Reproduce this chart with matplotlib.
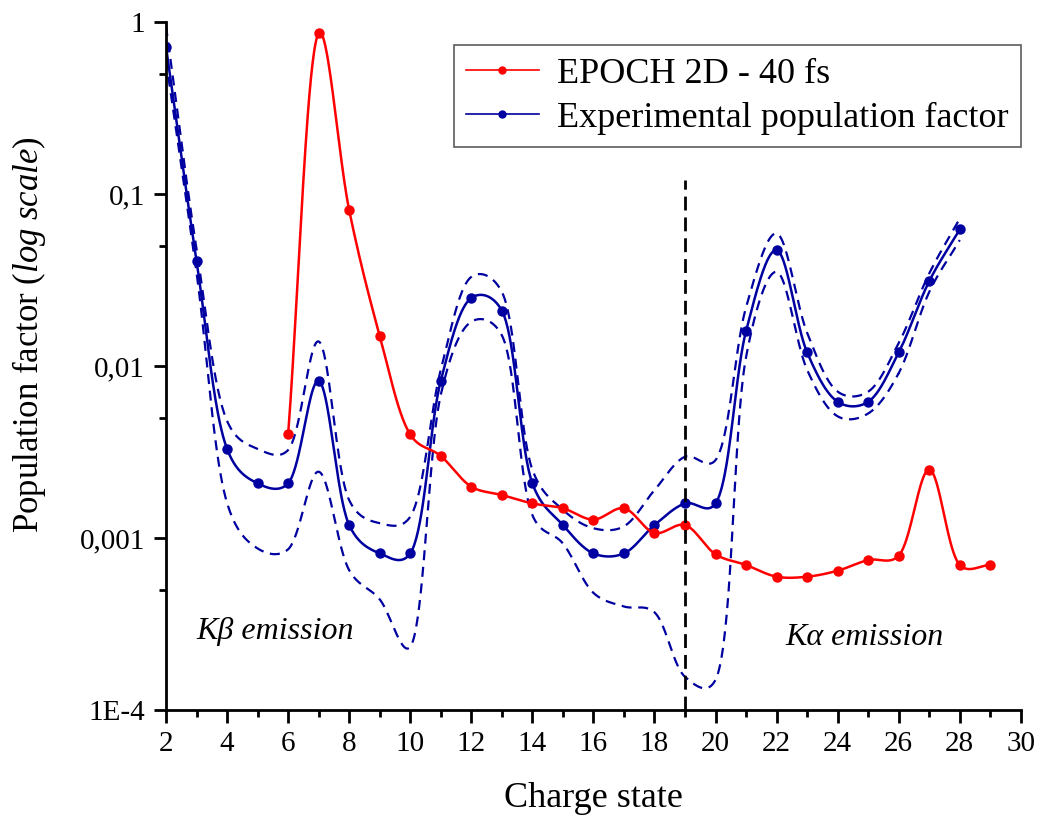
import numpy as np
import matplotlib
matplotlib.use("Agg")
import matplotlib.pyplot as plt
from matplotlib.ticker import FixedLocator, FixedFormatter, MultipleLocator, NullFormatter

plt.rcParams['font.family'] = ['Liberation Serif', 'DejaVu Serif']
plt.rcParams['mathtext.fontset'] = 'custom'
plt.rcParams['mathtext.rm'] = 'Liberation Serif'
plt.rcParams['mathtext.it'] = 'Liberation Serif:italic'

# --- data --------------------------------------------------------------------
epoch_x = np.arange(6, 30)
epoch_y = [0.0040, 0.86, 0.0807, 0.015, 0.0040, 0.0030, 0.00199, 0.00178,
           0.00159, 0.00149, 0.00128, 0.00149, 0.00107, 0.00119, 0.000804,
           0.000697, 0.000596, 0.000596, 0.000646, 0.000745, 0.00079,
           0.0025, 0.000697, 0.000697]

exp_x = np.arange(2, 29)
exp_y = [0.72, 0.041, 0.0033, 0.00208, 0.00208, 0.00818, 0.00119, 0.000814,
         0.000814, 0.0082, 0.0249, 0.021, 0.00208, 0.00119, 0.000814,
         0.000814, 0.00119, 0.00159, 0.00159, 0.016, 0.0472, 0.012, 0.0062,
         0.0062, 0.012, 0.0312, 0.0623]
exp_upper = [0.95, 0.048, 0.0048, 0.0033, 0.00325, 0.0139, 0.00166, 0.00122,
             0.00133, 0.0095, 0.033, 0.027, 0.0025, 0.00146, 0.00114,
             0.00117, 0.0019, 0.00297, 0.00284, 0.022, 0.059, 0.0156, 0.0071,
             0.0071, 0.0136, 0.0346, 0.072]
exp_lower = [0.60, 0.035, 0.0016, 0.00087, 0.00086, 0.00243, 0.00065, 0.00044,
             0.000233, 0.0068, 0.0181, 0.0151, 0.00136, 0.00093, 0.00048,
             0.0004, 0.00037, 0.000156, 0.00015, 0.0113, 0.0353, 0.0095,
             0.0051, 0.0053, 0.0091, 0.027, 0.054]

yticks = [1e-4, 1e-3, 1e-2, 1e-1, 1]
ytick_labels = ["1E-4", "0,001", "0,01", "0,1", "1"]
kshell_split = 19


def smooth(x, y, n=40, alpha=0.3, sx=30.5, sy=172.0):
    # Catmull-Rom through the points, worked out in screen-like units
    # (x per charge state, y per decade) so it bends like Origin's spline
    P = np.column_stack([np.asarray(x, float)*sx, np.log10(y)*sy])
    P = np.vstack([2*P[0] - P[1], P, 2*P[-1] - P[-2]])
    out = []
    for i in range(1, len(P)-2):
        p0, p1, p2, p3 = P[i-1], P[i], P[i+1], P[i+2]
        t0 = 0.0
        t1 = t0 + np.linalg.norm(p1 - p0)**alpha
        t2 = t1 + np.linalg.norm(p2 - p1)**alpha
        t3 = t2 + np.linalg.norm(p3 - p2)**alpha
        t = np.linspace(t1, t2, n)[:, None]
        A1 = (t1-t)/(t1-t0)*p0 + (t-t0)/(t1-t0)*p1
        A2 = (t2-t)/(t2-t1)*p1 + (t-t1)/(t2-t1)*p2
        A3 = (t3-t)/(t3-t2)*p2 + (t-t2)/(t3-t2)*p3
        B1 = (t2-t)/(t2-t0)*A1 + (t-t0)/(t2-t0)*A2
        B2 = (t3-t)/(t3-t1)*A2 + (t-t1)/(t3-t1)*A3
        out.append((t2-t)/(t2-t1)*B1 + (t-t1)/(t2-t1)*B2)
    C = np.vstack(out)
    return C[:, 0]/sx, 10**(C[:, 1]/sy)


red = "#ff0000"
blue = "#0000a0"

fig = plt.figure(figsize=(10.4, 8.18), dpi=100)
ax = fig.add_axes([0.1596, 0.132, 0.822, 0.841])

ax.plot(*smooth(exp_x, exp_upper), color=blue, lw=1.6, ls=(0, (4.5, 3)))
ax.plot(*smooth(exp_x, exp_lower), color=blue, lw=1.6, ls=(0, (4.5, 3)))
ax.plot(*smooth(exp_x, exp_y), color=blue, lw=1.8)
ax.plot(exp_x, exp_y, 'o', color=blue, ms=6.5)
ax.plot(*smooth(epoch_x, epoch_y), color=red, lw=1.8)
ax.plot(epoch_x, epoch_y, 'o', color=red, ms=6.5)

# legend proxies
ax.plot([], [], '-o', color=red, lw=1.2, ms=5, label="EPOCH 2D - 40 fs")
ax.plot([], [], '-o', color=blue, lw=1.2, ms=5, label="Experimental population factor")

ax.vlines(kshell_split, 1e-4, 0.12, colors="black", lw=2, linestyles=(0, (5, 2.5)))

ax.text(3.0, 2.6e-4, "K\u03b2 emission", fontsize=23, fontstyle="italic")
ax.text(22.3, 2.4e-4, "K\u03b1 emission", fontsize=23, fontstyle="italic")

ax.set_yscale("log")
ax.set_xlim(2, 30)
ax.set_ylim(1e-4, 1)
ax.xaxis.set_major_locator(MultipleLocator(2))
ax.xaxis.set_minor_locator(MultipleLocator(1))
ax.yaxis.set_major_locator(FixedLocator(yticks))
ax.yaxis.set_major_formatter(FixedFormatter(ytick_labels))
ax.yaxis.set_minor_locator(FixedLocator([5e-4, 5e-3, 5e-2, 0.5]))
ax.yaxis.set_minor_formatter(NullFormatter())

for side in ("top", "right"):
    ax.spines[side].set_visible(False)
for side in ("left", "bottom"):
    ax.spines[side].set_linewidth(2)
ax.tick_params(which="major", direction="out", length=9, width=2, labelsize=21, pad=6)
ax.tick_params(which="minor", direction="out", length=5, width=2)

ax.set_xlabel("Charge state", fontsize=26)
ax.xaxis.set_label_coords(0.5, -0.104)
ax.set_ylabel("Population factor $\\mathit{(log\\ scale)}$", fontsize=25)
ax.yaxis.set_label_coords(-0.138, 0.545)

leg = ax.legend(loc="upper right", bbox_to_anchor=(1.0, 0.967), fontsize=26,
                handlelength=2.0, frameon=True, fancybox=False, borderpad=0.35,
                labelspacing=0.3, handletextpad=0.5, borderaxespad=0)
leg.get_frame().set_edgecolor("#333333")
leg.get_frame().set_linewidth(1.2)

fig.savefig("out.png", dpi=100)
